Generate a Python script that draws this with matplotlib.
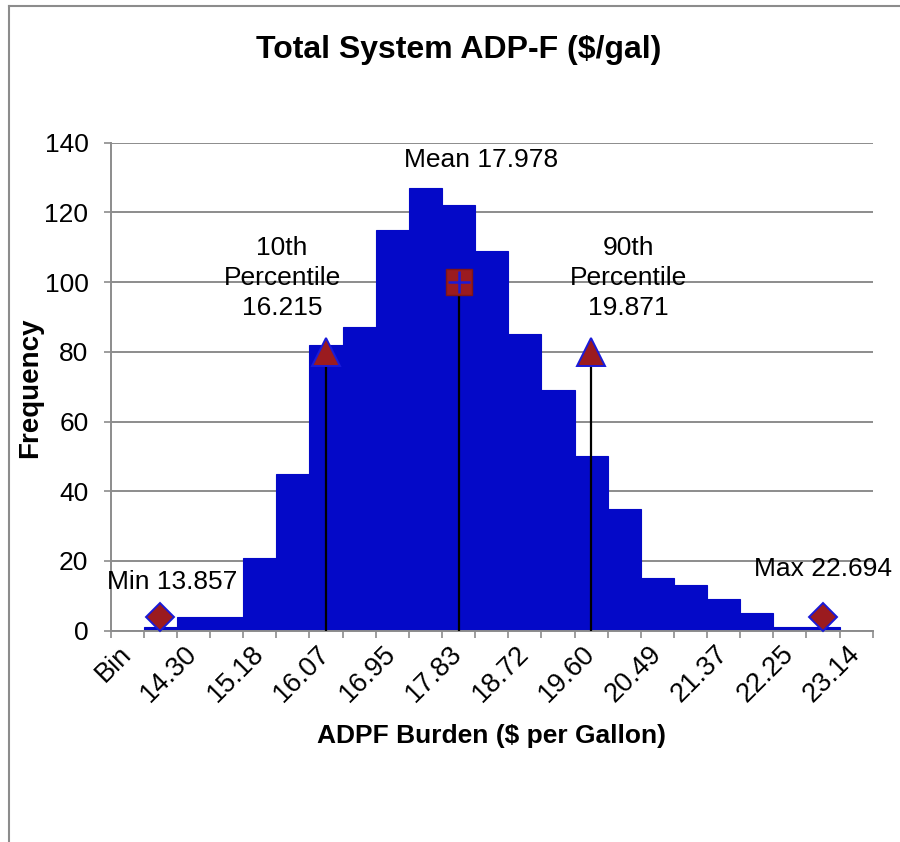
import matplotlib
matplotlib.use("Agg")
import matplotlib.pyplot as plt
from matplotlib.lines import Line2D
import numpy as np

plt.rcParams['font.family'] = ['Liberation Sans', 'DejaVu Sans']

# ---- data ----
bin_labels = ["Bin", "13.86", "14.30", "14.74", "15.18", "15.62", "16.07", "16.51",
              "16.95", "17.39", "17.83", "18.28", "18.72", "19.16", "19.60", "20.04",
              "20.49", "20.93", "21.37", "21.81", "22.25", "22.69", "23.14"]
frequency = [0, 1, 4, 4, 21, 45, 82, 87, 115, 127, 122, 109, 85, 69, 50, 35,
             15, 13, 9, 5, 1, 1, 0]

stat_names = ["Min 13.857", "10th\nPercentile\n16.215", "Mean 17.978",
              "90th\nPercentile\n19.871", "Max 22.694"]
stat_bins = ["13.86", "16.07", "17.83", "19.60", "22.69"]
stat_values = [4, 80, 100, 80, 4]
stat_kind = ["minmax", "pct", "mean", "pct", "minmax"]
y_ticks = [0, 20, 40, 60, 80, 100, 120, 140]

# ---- style ----
BLUE = '#0409C8'
RED = '#9B1B1F'
EDGE = '#1A1AD8'
GRAY = '#8C8C8C'

W, H = 900, 842
fig = plt.figure(figsize=(W / 100, H / 100), dpi=100)
ax_l, ax_r, ax_t, ax_b = 110.7, 872.7, 142.7, 630.7
ax = fig.add_axes([ax_l / W, 1 - ax_b / H, (ax_r - ax_l) / W, (ax_b - ax_t) / H])

x = np.arange(len(bin_labels))
ax.bar(x, frequency, width=1.0, color=BLUE, edgecolor=BLUE, linewidth=0.8, zorder=2)

ax.set_xlim(-0.5, len(bin_labels) - 0.5)
ax.set_ylim(0, 140)
ax.set_yticks(y_ticks)
ax.yaxis.grid(True, color=GRAY, lw=1.4)
ax.set_axisbelow(True)
for s in ['top', 'right']:
    ax.spines[s].set_visible(False)
for s in ['left', 'bottom']:
    ax.spines[s].set_color(GRAY)
    ax.spines[s].set_linewidth(1.4)

ax.tick_params(axis='y', direction='out', length=5, width=1.2, color=GRAY,
               labelsize=19, pad=11)
major = x[::2]
ax.set_xticks(major)
ax.set_xticklabels([bin_labels[i] for i in major], rotation=45, ha='right',
                   va='center', rotation_mode='anchor')
ax.set_xticks(np.arange(-0.5, len(bin_labels), 1.0), minor=True)
ax.tick_params(axis='x', which='major', length=0, labelsize=19.5, pad=14)
ax.tick_params(axis='x', which='minor', direction='out', length=5, width=1.2, color=GRAY)

# ---- statistic markers ----
offsets = {"Min 13.857": (12, 35), "Max 22.694": (0, 48), "Mean 17.978": (22, 122)}
for name, b, v, kind in zip(stat_names, stat_bins, stat_values, stat_kind):
    xi = bin_labels.index(b)
    if kind == "minmax":
        ax.plot([xi], [v], 'D', ms=14.5, mfc=RED, mec=EDGE, mew=1.4, zorder=6, clip_on=False)
        off = offsets[name]
    elif kind == "pct":
        ax.vlines([xi], 0, v, color='black', lw=1.6, zorder=4)
        ax.plot([xi], [v], '^', ms=20, mfc=RED, mec=EDGE, mew=1.4, zorder=6)
        off = (-44, 74) if name.startswith("10th") else (37, 74)
    else:
        ax.vlines([xi], 0, v, color='black', lw=1.6, zorder=4)
        ax.plot([xi], [v], 's', ms=19, mfc=RED, mec='#7E1518', mew=1.0, zorder=6)
        ax.plot([xi], [v], '+', ms=16, color=EDGE, mew=1.8, zorder=7)
        off = offsets[name]
    ax.annotate(name, xy=(xi, v), xytext=off, textcoords='offset pixels',
                ha='center', va='center', fontsize=19, linespacing=1.3,
                multialignment='center', zorder=8)

# ---- titles ----
fig.text(459 / W, 1 - 58 / H, "Total System ADP-F ($/gal)", ha='center', va='baseline',
         fontsize=23, fontweight='bold')
fig.text(492 / W, 1 - 743 / H, "ADPF Burden ($ per Gallon)", ha='center', va='baseline',
         fontsize=19, fontweight='bold')
fig.text(30 / W, 1 - 388 / H, "Frequency", rotation=90, ha='center', va='center',
         fontsize=20, fontweight='bold')

# ---- chart frame (partially visible) ----
fig.add_artist(Line2D([9 / W, 9 / W], [0, 1 - 6 / H], transform=fig.transFigure,
                      color=GRAY, lw=1.5))
fig.add_artist(Line2D([9 / W, 1], [1 - 6 / H, 1 - 6 / H], transform=fig.transFigure,
                      color=GRAY, lw=1.5))

fig.savefig("out.png", dpi=100)
